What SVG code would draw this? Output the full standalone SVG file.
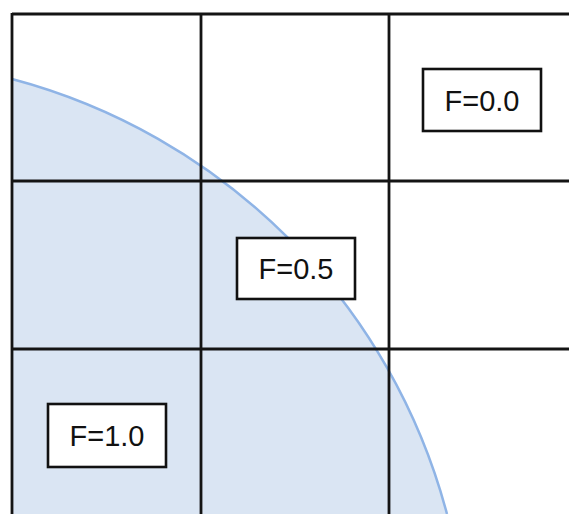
<svg xmlns="http://www.w3.org/2000/svg" width="569" height="514" viewBox="0 0 569 514">
<style>
.grid{stroke:#141414;stroke-width:2.8;fill:none}
.box{fill:#ffffff;stroke:#111111;stroke-width:2.6}
.lbl{font-family:"Liberation Sans",Arial,sans-serif;font-size:29px;fill:#111111;text-anchor:middle}
</style>
<rect x="0" y="0" width="569" height="514" fill="#ffffff"/>
<g id="region">
<path d="M12,79 A613,613 0 0 1 447,514 L12,514 Z" fill="#dae5f3"/>
<path d="M12,79 A613,613 0 0 1 447,514" fill="none" stroke="#8fb4e6" stroke-width="2.5"/>
</g>
<g id="grid">
<line class="grid" x1="12" y1="14" x2="569" y2="14"/>
<line class="grid" x1="12" y1="181" x2="569" y2="181"/>
<line class="grid" x1="12" y1="349" x2="569" y2="349"/>
<line class="grid" x1="12" y1="13" x2="12" y2="514"/>
<line class="grid" x1="201" y1="13" x2="201" y2="514"/>
<line class="grid" x1="389" y1="13" x2="389" y2="514"/>
</g>
<g id="f00">
<rect class="box" x="423" y="69" width="118" height="62"/>
<text class="lbl" x="482" y="111">F=0.0</text>
</g>
<g id="f05">
<rect class="box" x="237" y="238" width="118" height="61"/>
<text class="lbl" x="296" y="279">F=0.5</text>
</g>
<g id="f10">
<rect class="box" x="48" y="404" width="118" height="63"/>
<text class="lbl" x="107" y="446">F=1.0</text>
</g>
</svg>
